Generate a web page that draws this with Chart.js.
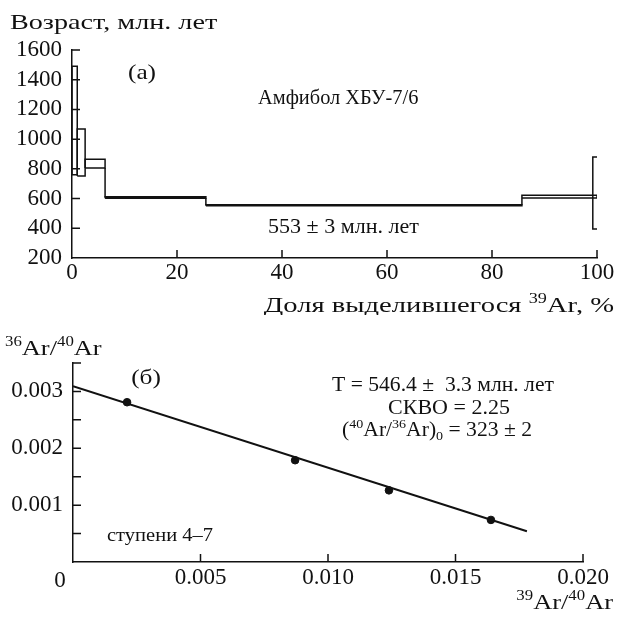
<!DOCTYPE html>
<html>
<head>
<meta charset="utf-8">
<script src="https://cdn.jsdelivr.net/npm/chart.js@4.4.1/dist/chart.umd.min.js"></script>
<style>
  body { margin: 0; background: #fff; }
  #wrap { position: relative; width: 617px; height: 621px; }
  canvas { position: absolute; left: 0; }
</style>
</head>
<body>
<div id="wrap">
  <canvas id="spec" width="617" height="315" style="top:0"></canvas>
  <canvas id="iso" width="617" height="306" style="top:315px"></canvas>
</div>
<script>
// (а) возрастной спектр: границы ступеней (накопл. доля 39Ar, %), возраст и погрешность, млн лет
const stepEdges = [0, 1, 2.5, 6.3, 25.5, 85.7, 100];
const stepAges = [1125, 910, 835, 607, 555, 613];
const stepErrs = [365, 158, 30, 5, 4, 9];
const bracketAges = [395, 880];      // скобка у 100 %
const ageTicks = [200, 400, 600, 800, 1000, 1200, 1400, 1600];
const pctTicks = [0, 20, 40, 60, 80, 100];

// (б) изохрона
const isoX = [0.00212, 0.00871, 0.01239, 0.01639];   // 39Ar/40Ar
const isoY = [0.00281, 0.00179, 0.00126, 0.00074];   // 36Ar/40Ar
const fitX = [0, 0.0178];
const fitY = [0.00309, 0.00054];
const ratioYTicks = [0, 0.0005, 0.001, 0.0015, 0.002, 0.0025, 0.003, 0.0035];
const ratioYLabels = ['', '', '0.001', '', '0.002', '', '0.003', ''];
const ratioXTicks = [0, 0.005, 0.010, 0.015, 0.020];
const ratioXLabels = ['', '0.005', '0.010', '0.015', '0.020'];

const FONT = "'Liberation Serif', 'Times New Roman', serif";
const INK = '#111';
Chart.defaults.font.family = FONT;
Chart.defaults.color = INK;

function boxDataset(i) {
  const x0 = stepEdges[i], x1 = stepEdges[i + 1];
  const lo = stepAges[i] - stepErrs[i], hi = stepAges[i] + stepErrs[i];
  return {
    data: [{x: x0, y: lo}, {x: x1, y: lo}, {x: x1, y: hi}, {x: x0, y: hi}, {x: x0, y: lo}],
    borderColor: INK, borderWidth: 1.5, pointRadius: 0, fill: false
  };
}

// вертикальные связки между ступенями, если интервалы не перекрываются
function connectors() {
  const pts = [];
  for (let i = 0; i < stepAges.length - 1; i++) {
    const aLo = stepAges[i] - stepErrs[i], aHi = stepAges[i] + stepErrs[i];
    const bLo = stepAges[i + 1] - stepErrs[i + 1], bHi = stepAges[i + 1] + stepErrs[i + 1];
    const x = stepEdges[i + 1];
    if (bHi < aLo) pts.push({x, y: aLo}, {x, y: bHi}, {x, y: null});
    else if (bLo > aHi) pts.push({x, y: aHi}, {x, y: bLo}, {x, y: null});
  }
  return pts;
}

// текст из кусков (надстрочные индексы), sx - растяжка по горизонтали как в скане
function rich(ctx, parts, x, y, align, sx = 1) {
  let w = 0;
  parts.forEach(p => { ctx.font = p[1] + 'px ' + FONT; w += ctx.measureText(p[0]).width; });
  const W = w * sx;
  const x0 = align === 'right' ? x - W : align === 'center' ? x - W / 2 : x;
  ctx.save();
  ctx.translate(x0, y);
  ctx.scale(sx, 1);
  ctx.textAlign = 'left';
  ctx.textBaseline = 'alphabetic';
  let cx = 0;
  parts.forEach(p => {
    ctx.font = p[1] + 'px ' + FONT;
    ctx.fillText(p[0], cx, p[2] || 0);
    cx += ctx.measureText(p[0]).width;
  });
  ctx.restore();
}

const innerTicks = {
  id: 'innerTicks',
  afterDraw(chart) {
    const {ctx, chartArea: a, scales: {x, y}} = chart;
    ctx.save();
    ctx.strokeStyle = INK;
    ctx.lineWidth = 1.5;
    ctx.beginPath();
    y.ticks.forEach(t => {
      if (t.value === y.min) return;
      const py = y.getPixelForValue(t.value);
      ctx.moveTo(a.left, py); ctx.lineTo(a.left + 8, py);
    });
    x.ticks.forEach(t => {
      if (t.value === x.min) return;
      const px = x.getPixelForValue(t.value);
      ctx.moveTo(px, a.bottom); ctx.lineTo(px, a.bottom - 8);
    });
    ctx.stroke();
    ctx.restore();
  }
};

const notesA = {
  id: 'notesA',
  afterDraw(chart) {
    const ctx = chart.ctx;
    ctx.save();
    ctx.fillStyle = INK;
    rich(ctx, [['Возраст, млн. лет', 22]], 10, 29, 'left', 1.28);
    rich(ctx, [['(а)', 22]], 142, 79, 'center', 1.15);
    rich(ctx, [['Амфибол ХБУ-7/6', 20]], 258, 104, 'left', 1.02);
    rich(ctx, [['553 ± 3 млн. лет', 21]], 268, 233, 'left', 1.05);
    rich(ctx, [['Доля выделившегося ', 22], ['39', 14, -9], ['Ar, %', 22]], 614, 312, 'right', 1.3);
    ctx.restore();
  }
};

const notesB = {
  id: 'notesB',
  afterDraw(chart) {
    const ctx = chart.ctx, o = 315;
    ctx.save();
    ctx.fillStyle = INK;
    rich(ctx, [['36', 14, -9], ['Ar/', 22], ['40', 14, -9], ['Ar', 22]], 5, 355 - o, 'left', 1.2);
    rich(ctx, [['(б)', 22]], 146, 384 - o, 'center', 1.15);
    rich(ctx, [['T = 546.4 ±  3.3 млн. лет', 20]], 443, 391 - o, 'center', 1.08);
    rich(ctx, [['СКВО = 2.25', 20]], 449, 414 - o, 'center', 1.1);
    rich(ctx, [['(', 20], ['40', 13, -8], ['Ar/', 20], ['36', 13, -8], ['Ar)', 20], ['0', 13, 4], [' = 323 ± 2', 20]], 437, 436 - o, 'center', 1.08);
    rich(ctx, [['ступени 4–7', 18]], 107, 541 - o, 'left', 1.14);
    rich(ctx, [['39', 14, -9], ['Ar/', 22], ['40', 14, -9], ['Ar', 22]], 613, 609 - o, 'right', 1.2);
    rich(ctx, [['0', 23]], chart.scales.x.getPixelForValue(0) - 13, 587 - o, 'center');
    ctx.restore();
  }
};

const tickFont = {size: 23, family: FONT};

new Chart(document.getElementById('spec'), {
  type: 'line',
  data: {
    datasets: [
      ...stepAges.map((_, i) => boxDataset(i)),
      {data: connectors(), borderColor: INK, borderWidth: 1.5, pointRadius: 0, spanGaps: false},
      {
        data: [{x: 100, y: bracketAges[1]}, {x: 99.2, y: bracketAges[1]}, {x: 99.2, y: bracketAges[0]}, {x: 100, y: bracketAges[0]}],
        borderColor: INK, borderWidth: 1.5, pointRadius: 0, clip: 10
      }
    ]
  },
  options: {
    responsive: false,
    animation: false,
    layout: {padding: {top: 50, right: 20, left: 0, bottom: 0}},
    plugins: {legend: {display: false}, tooltip: {enabled: false}},
    scales: {
      x: {
        type: 'linear', min: 0, max: 100,
        afterBuildTicks: s => { s.ticks = pctTicks.map(v => ({value: v})); },
        ticks: {font: tickFont, color: INK, padding: 1, maxRotation: 0, autoSkip: false, callback: v => String(v)},
        grid: {display: false, drawTicks: false},
        border: {color: INK, width: 1.5},
        afterFit: s => { s.height = 57; }
      },
      y: {
        type: 'linear', min: 200, max: 1600,
        afterBuildTicks: s => { s.ticks = ageTicks.map(v => ({value: v})); },
        ticks: {font: tickFont, color: INK, padding: 10, autoSkip: false, callback: v => String(v)},
        grid: {display: false, drawTicks: false},
        border: {color: INK, width: 1.5},
        afterFit: s => { s.width = 72; }
      }
    }
  },
  plugins: [innerTicks, notesA]
});

new Chart(document.getElementById('iso'), {
  type: 'scatter',
  data: {
    datasets: [
      {
        data: isoX.map((x, i) => ({x, y: isoY[i]})),
        backgroundColor: INK, borderColor: INK, pointRadius: 3.8, pointStyle: 'circle'
      },
      {
        data: fitX.map((x, i) => ({x, y: fitY[i]})),
        showLine: true, borderColor: INK, borderWidth: 2, pointRadius: 0
      }
    ]
  },
  options: {
    responsive: false,
    animation: false,
    layout: {padding: {top: 48, right: 34, left: 0, bottom: 0}},
    plugins: {legend: {display: false}, tooltip: {enabled: false}},
    scales: {
      x: {
        type: 'linear', min: 0, max: 0.020,
        afterBuildTicks: s => { s.ticks = ratioXTicks.map(v => ({value: v})); },
        ticks: {font: tickFont, color: INK, padding: 2, maxRotation: 0, autoSkip: false, callback: (v, i) => ratioXLabels[i]},
        grid: {display: false, drawTicks: false},
        border: {color: INK, width: 1.5},
        afterFit: s => { s.height = 59; }
      },
      y: {
        type: 'linear', min: 0, max: 0.0035,
        afterBuildTicks: s => { s.ticks = ratioYTicks.map(v => ({value: v})); },
        ticks: {font: tickFont, color: INK, padding: 10, autoSkip: false, callback: (v, i) => ratioYLabels[i]},
        grid: {display: false, drawTicks: false},
        border: {color: INK, width: 1.5},
        afterFit: s => { s.width = 73; }
      }
    }
  },
  plugins: [innerTicks, notesB]
});
</script>
</body>
</html>
